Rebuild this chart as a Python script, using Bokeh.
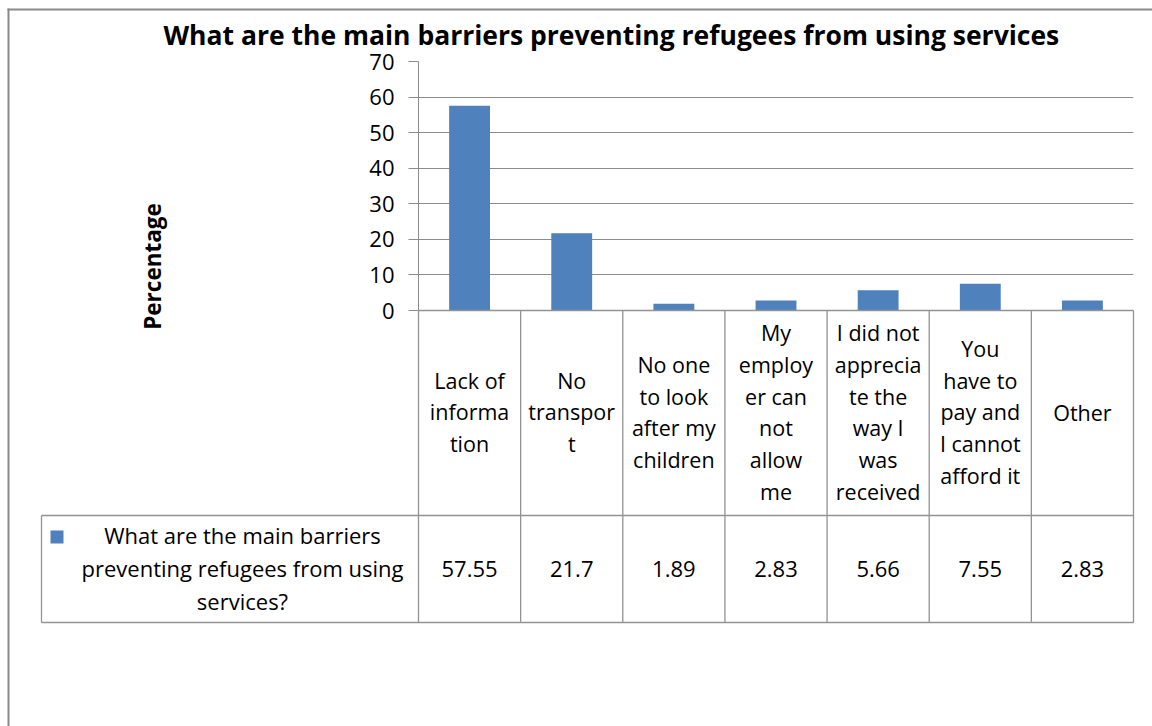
import math
from bokeh.plotting import figure
from bokeh.models import Range1d, FixedTicker
from bokeh.embed import file_html
from bokeh.resources import INLINE
from bokeh.core.properties import value

# ---------------- data ----------------
title_text = "What are the main barriers preventing refugees from using services"
series_name = "What are the main barriers\npreventing refugees from using\nservices?"
categories = [
    "Lack of\ninforma\ntion",
    "No\ntranspor\nt",
    "No one\nto look\nafter my\nchildren",
    "My\nemploy\ner can\nnot\nallow\nme",
    "I did not\napprecia\nte the\nway I\nwas\nreceived",
    "You\nhave to\npay and\nI cannot\nafford it",
    "Other",
]
values = [57.55, 21.7, 1.89, 2.83, 5.66, 7.55, 2.83]
y_ticks = [0, 10, 20, 30, 40, 50, 60, 70]
y_label = "Percentage"

# ---------------- style / layout ----------------
FONT = "Open Sans"
BAR = "#4F81BD"
GRID = "#8C8C8C"
LINE = "#939393"
TXT = "#000000"
FRAME = "#8A8A8A"

W, H = 1152, 726
LEFT, RIGHT, TOP, BASE = 418, 1133, 61, 310
N = len(categories)
UNIT = (RIGHT - LEFT) / N
HEADER_H = 205
ROW_H = 107
TABLE_LEFT = 41
FS = "21.5px"
LH = 1.1

xs = [i + 0.5 for i in range(N)]

p = figure(width=W, height=H, x_range=Range1d(0, N), y_range=Range1d(0, 70),
           output_backend="svg", toolbar_location=None, x_axis_location=None,
           min_border_left=LEFT, min_border_right=W - RIGHT, min_border_top=TOP,
           min_border_bottom=H - BASE, outline_line_color=None,
           border_fill_color="white", background_fill_color="white")
# table coordinates: pixels below the baseline
p.extra_y_ranges = {"tbl": Range1d(start=0, end=-(BASE - TOP))}

p.vbar(x=xs, top=values, width=0.4, fill_color=BAR, line_color=None)

p.xgrid.visible = False
p.ygrid.ticker = FixedTicker(ticks=y_ticks)
p.ygrid.grid_line_color = GRID
p.ygrid.grid_line_width = 1

ax = p.yaxis[0]
ax.ticker = FixedTicker(ticks=y_ticks)
ax.axis_line_color = GRID
ax.major_tick_line_color = GRID
ax.major_tick_out = 10
ax.major_tick_in = 0
ax.minor_tick_out = 0
ax.minor_tick_in = 0
ax.major_label_standoff = 14
ax.major_label_text_font = FONT
ax.major_label_text_font_size = "22px"
ax.major_label_text_color = TXT

p.title.text = title_text
p.title.align = "left"
p.title.offset = 163 - LEFT
p.title.standoff = 18
p.title.text_font = FONT
p.title.text_font_size = "26.5px"
p.title.text_font_style = "bold"
p.title.text_color = TXT

kw = dict(y_range_name="tbl", level="overlay")

# y-axis title (centred on plot area + table, as in the reference)
p.text(x=[(152 - LEFT) / UNIT], y=[266 - BASE], text=[y_label], angle=math.pi / 2,
       text_align="center", text_baseline="middle", text_font=value(FONT),
       text_font_size="22.5px", text_font_style="bold", text_color=TXT, **kw)

# ---------------- data table (drawn below the plot area) ----------------
tl = (TABLE_LEFT - LEFT) / UNIT
bottom = HEADER_H + ROW_H

p.segment(x0=list(range(N + 1)), y0=[0] * (N + 1), x1=list(range(N + 1)),
          y1=[bottom] * (N + 1), line_color=LINE, line_width=1.3, **kw)
p.segment(x0=[tl], y0=[HEADER_H], x1=[tl], y1=[bottom], line_color=LINE,
          line_width=1.3, **kw)
p.segment(x0=[0, tl, tl], y0=[0, HEADER_H, bottom], x1=[N, N, N],
          y1=[0, HEADER_H, bottom], line_color=LINE, line_width=1.3, **kw)

p.text(x=xs, y=[HEADER_H / 2 - 1] * N, text=categories, text_align="center",
       text_baseline="middle", text_font=value(FONT), text_font_size=FS,
       text_line_height=LH, text_color=TXT, **kw)
p.text(x=xs, y=[HEADER_H + ROW_H / 2] * N, text=[str(v) for v in values],
       text_align="center", text_baseline="middle", text_font=value(FONT),
       text_font_size="22px", text_color=TXT, **kw)
p.text(x=[(242 - LEFT) / UNIT], y=[HEADER_H + ROW_H / 2 - 1], text=[series_name],
       text_align="center", text_baseline="middle", text_font=value(FONT),
       text_font_size="22px", text_line_height=LH, text_color=TXT, **kw)
p.rect(x=[(56.5 - LEFT) / UNIT], y=[HEADER_H + 21.5], width=13, height=13,
       width_units="screen", height_units="screen", fill_color=BAR,
       line_color=None, **kw)

# outer chart border (left and top edges)
p.segment(x0=[(8 - LEFT) / UNIT, (7 - LEFT) / UNIT],
          y0=[-(BASE - 8), -(BASE - 9)],
          x1=[(8 - LEFT) / UNIT, (W + 10 - LEFT) / UNIT],
          y1=[H + 10 - BASE, -(BASE - 9)],
          line_color=FRAME, line_width=2, **kw)

open("out.html", "w").write(file_html(p, INLINE))
